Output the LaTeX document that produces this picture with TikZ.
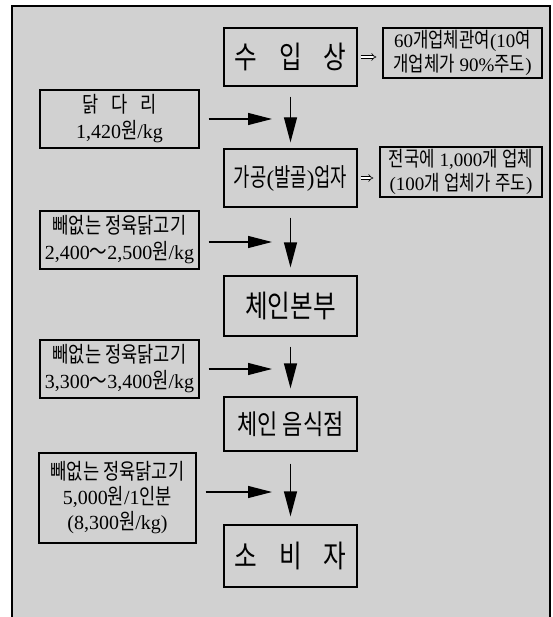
\documentclass[tikz,border=0pt]{standalone}
\usepackage{fontspec}
\setmainfont{Liberation Serif}
\newfontfamily\kr[FakeStretch=0.8,Scale=1.1]{Noto Sans CJK KR}
\newfontfamily\krn[FakeStretch=0.7,Scale=1.1]{Noto Sans CJK KR}
\usetikzlibrary{arrows.meta}
\newcommand{\K}[1]{{\kr #1}}
\newcommand{\KN}[1]{{\krn #1}}
\definecolor{bgtone}{gray}{0.82}
\tikzset{
  box/.style={draw, line width=1.2pt, align=center, inner sep=0pt},
  mainbox/.style={box, minimum width=133pt, minimum height=58pt},
  sidebox/.style={box, minimum width=159pt, minimum height=58pt, font=\fontsize{20}{26}\selectfont},
  notebox/.style={box, minimum width=160pt, minimum height=50pt, font=\fontsize{19}{24}\selectfont},
  flow/.style={line width=1.2pt, -{Triangle[length=25pt,width=13pt]}},
  feed/.style={line width=1.2pt, -{Triangle[length=24pt,width=12pt]}, shorten <=9pt},
  dbl/.style={double, double distance=2pt, line width=0.6pt, -{Implies}, shorten <=3pt, shorten >=6pt}
}
\begin{document}
\begin{tikzpicture}[x=1pt,y=-1pt]
\useasboundingbox (0,0) rectangle (552,617);
\clip (0,0) rectangle (552,617);
\fill[bgtone] (12,6) rectangle (550,640);
\draw[line width=1.8pt] (12,640) -- (12,6) -- (550,6) -- (550,640);

% main chain
\node[mainbox, font=\fontsize{28}{32}\selectfont] (imp) at (290.5,57) {\K{수\hspace{22pt}입\hspace{22pt}상}};
\node[mainbox, font=\fontsize{23}{28}\selectfont] (proc) at (290.5,178) {\KN{가공}(\KN{발골})\KN{업자}};
\node[mainbox, minimum height=60pt, font=\fontsize{28}{32}\selectfont] (hq) at (290.5,306) {\K{체인본부}};
\node[mainbox, minimum height=54pt, font=\fontsize{25}{30}\selectfont] (rest) at (290.5,424) {\K{체인 음식점}};
\node[mainbox, minimum height=62pt, font=\fontsize{28}{32}\selectfont] (cons) at (290.5,556) {\K{소\hspace{22pt}비\hspace{22pt}자}};

% notes on the right
\node[notebox, minimum width=159pt] (r1) at (462.5,53) {60\K{개업체관여}(10\K{여}\\\K{개업체가} 90\%\K{주도})};
\node[notebox, minimum width=162pt] (r2) at (461,172) {\K{전국에} 1,000\K{개} \K{업체}\\(100\K{개} \K{업체가} \K{주도})};

% price boxes on the left
\node[sidebox] (l1) at (119.5,119) {\K{닭\hspace{13pt}다\hspace{13pt}리}\\1,420\K{원}/kg};
\node[sidebox] (l2) at (119.5,240) {\K{빼없는 정육닭고기}\\2,400\K{～}2,500\K{원}/kg};
\node[sidebox] (l3) at (119.5,369) {\K{빼없는 정육닭고기}\\3,300\K{～}3,400\K{원}/kg};
\node[sidebox, minimum width=157pt, minimum height=90pt, font=\fontsize{20}{25}\selectfont] (l4) at (117.5,498) {\K{빼없는 정육닭고기}\\5,000\K{원}/1\K{인분}\\(8,300\K{원}/kg)};

% free ends of the feeding arrows
\coordinate (t1) at (272,119);
\coordinate (t2) at (272,242);
\coordinate (t3) at (272,369);
\coordinate (t4) at (272,492);

% vertical flow
\draw[flow, shorten <=10pt, shorten >=6pt] (imp) -- (proc);
\draw[flow, shorten <=10pt, shorten >=8pt] (proc) -- (hq);
\draw[flow, shorten <=10pt, shorten >=8pt] (hq) -- (rest);
\draw[flow, shorten <=12pt, shorten >=8pt] (rest) -- (cons);

% feeding arrows
\draw[feed] (l1.east |- t1) -- (t1);
\draw[feed] (l2.east |- t2) -- (t2);
\draw[feed] (l3.east |- t3) -- (t3);
\draw[feed] (l4.east |- t4) -- (t4);

% double arrows to notes
\draw[dbl] (imp.east) -- (imp.east -| r1.west);
\draw[dbl] (proc.east) -- (proc.east -| r2.west);
\end{tikzpicture}
\end{document}
